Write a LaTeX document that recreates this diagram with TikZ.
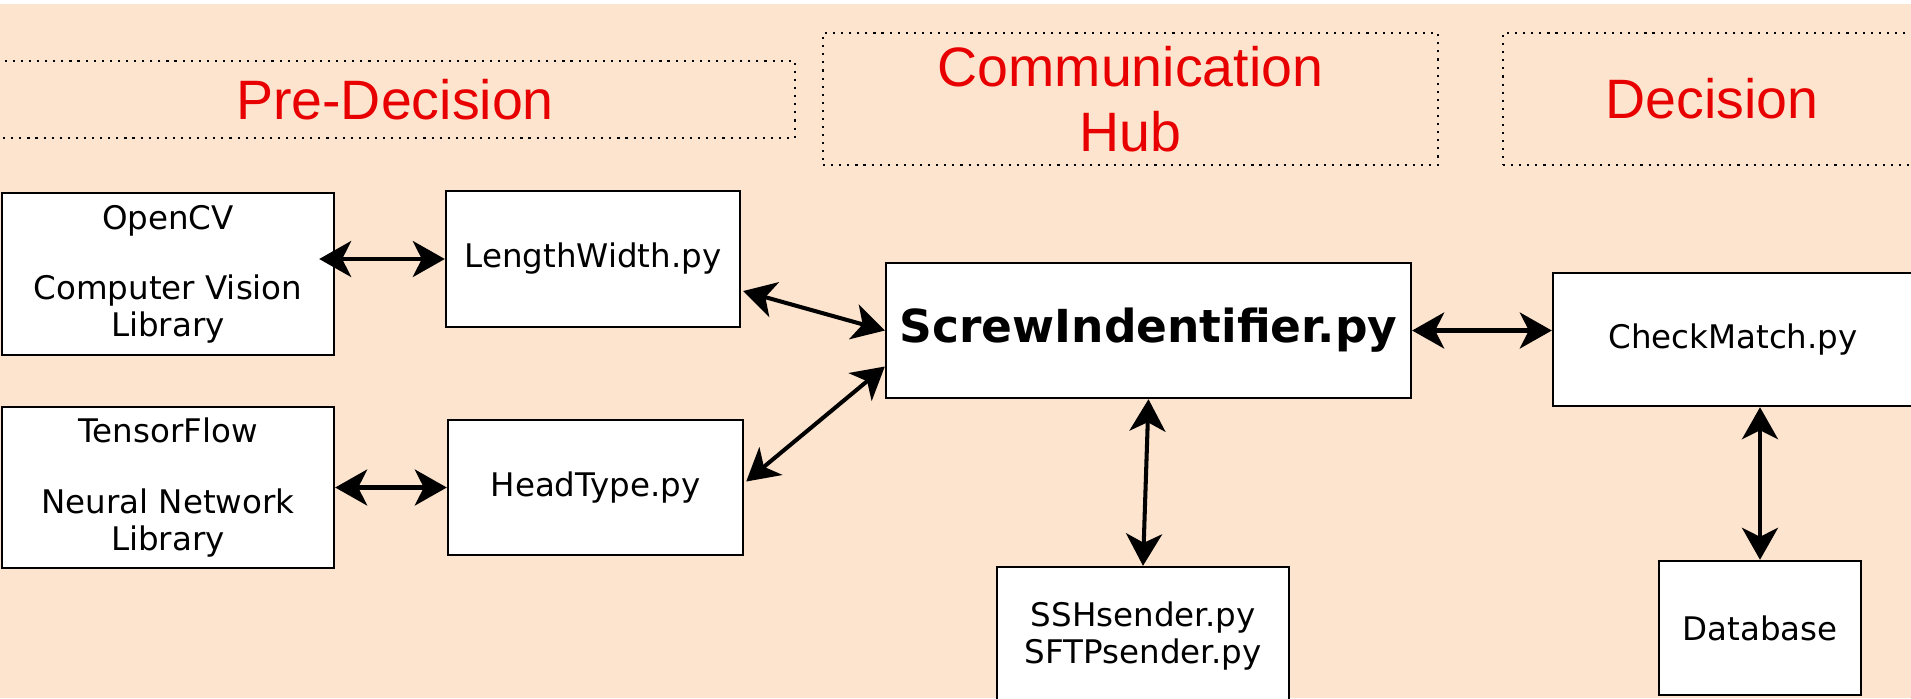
\documentclass[tikz,border=0pt]{standalone}
\usepackage{fontspec}
\setmainfont{DejaVu Sans}
\newfontfamily\titlefont{Liberation Sans}
\usetikzlibrary{arrows.meta, calc}

\definecolor{peach}{RGB}{252,228,206}
\definecolor{titlered}{RGB}{232,0,0}

\tikzset{
  box/.style={draw, line width=1.4pt, fill=white, align=center, inner sep=0pt,
    font=\fontsize{18.5pt}{21pt}\selectfont},
  stage/.style={draw, line width=1.2pt, dash pattern=on 1.2pt off 3.4pt,
    align=center, inner sep=0pt, text=titlered,
    font=\titlefont\fontsize{31.6pt}{37pt}\selectfont},
  link/.style={{Stealth[length=0.64cm, width=0.72cm, inset=0.18cm]}-{Stealth[length=0.64cm, width=0.72cm, inset=0.18cm]},
    line width=2.3pt}
}

\begin{document}
\begin{tikzpicture}[x=0.02cm, y=-0.02cm]

% Hintergrund
\useasboundingbox (0,0) rectangle (1911,698);
\clip (0,0) rectangle (1911,698);
\fill[white] (0,0) rectangle (1911,698);
\fill[peach] (0,4) rectangle (1911,698);

% Phasen
\node[stage, minimum width=16cm, minimum height=1.54cm] (pre) at (395,99.5) {Pre-Decision};
\node[stage, minimum width=12.3cm, minimum height=2.64cm] (hub) at (1130.5,99) {Communication\\Hub};
\node[stage, minimum width=8.36cm, minimum height=2.64cm] (dec) at (1712,99) {Decision};

% Module
\node[box, minimum width=6.64cm, minimum height=3.24cm] (opencv) at (168,274)
  {OpenCV\\[19pt]Computer Vision\\Library};
\node[box, minimum width=6.64cm, minimum height=3.22cm] (tf) at (168,487.5)
  {TensorFlow\\[19pt]Neural Network\\Library};
\node[box, minimum width=5.88cm, minimum height=2.72cm] (lw) at (593,259) {LengthWidth.py};
\node[box, minimum width=5.9cm, minimum height=2.7cm] (ht) at (595.5,487.5) {HeadType.py};
\node[box, minimum width=10.5cm, minimum height=2.7cm,
  font=\bfseries\fontsize{25.9pt}{30pt}\selectfont] (screw) at (1148.5,330.5) {ScrewIndentifier.py};
\node[box, minimum width=7.2cm, minimum height=2.66cm] (cm) at (1733,339.5) {CheckMatch.py};
\node[box, minimum width=5.84cm, minimum height=2.76cm] (ssh) at (1143,636) {SSHsender.py\\SFTPsender.py};
\node[box, minimum width=4.04cm, minimum height=2.68cm] (db) at (1760,628) {Database};

% Verbindungen
\draw[link] (lw.west) -- ($(opencv.east |- lw.west)+(-16,0)$);
\draw[link] (tf.east) -- (ht.west);
\draw[link] ($(lw.east)+(2,32)$) -- (screw.west);
\draw[link] ($(ht.east)+(2,-6)$) -- ($(screw.west)+(0,36)$);
\draw[link] (screw.east) -- (screw.east -| cm.west);
\draw[link] (screw.south) -- (ssh.north);
\draw[link] (db.north) -- (db.north |- cm.south);

\end{tikzpicture}
\end{document}
